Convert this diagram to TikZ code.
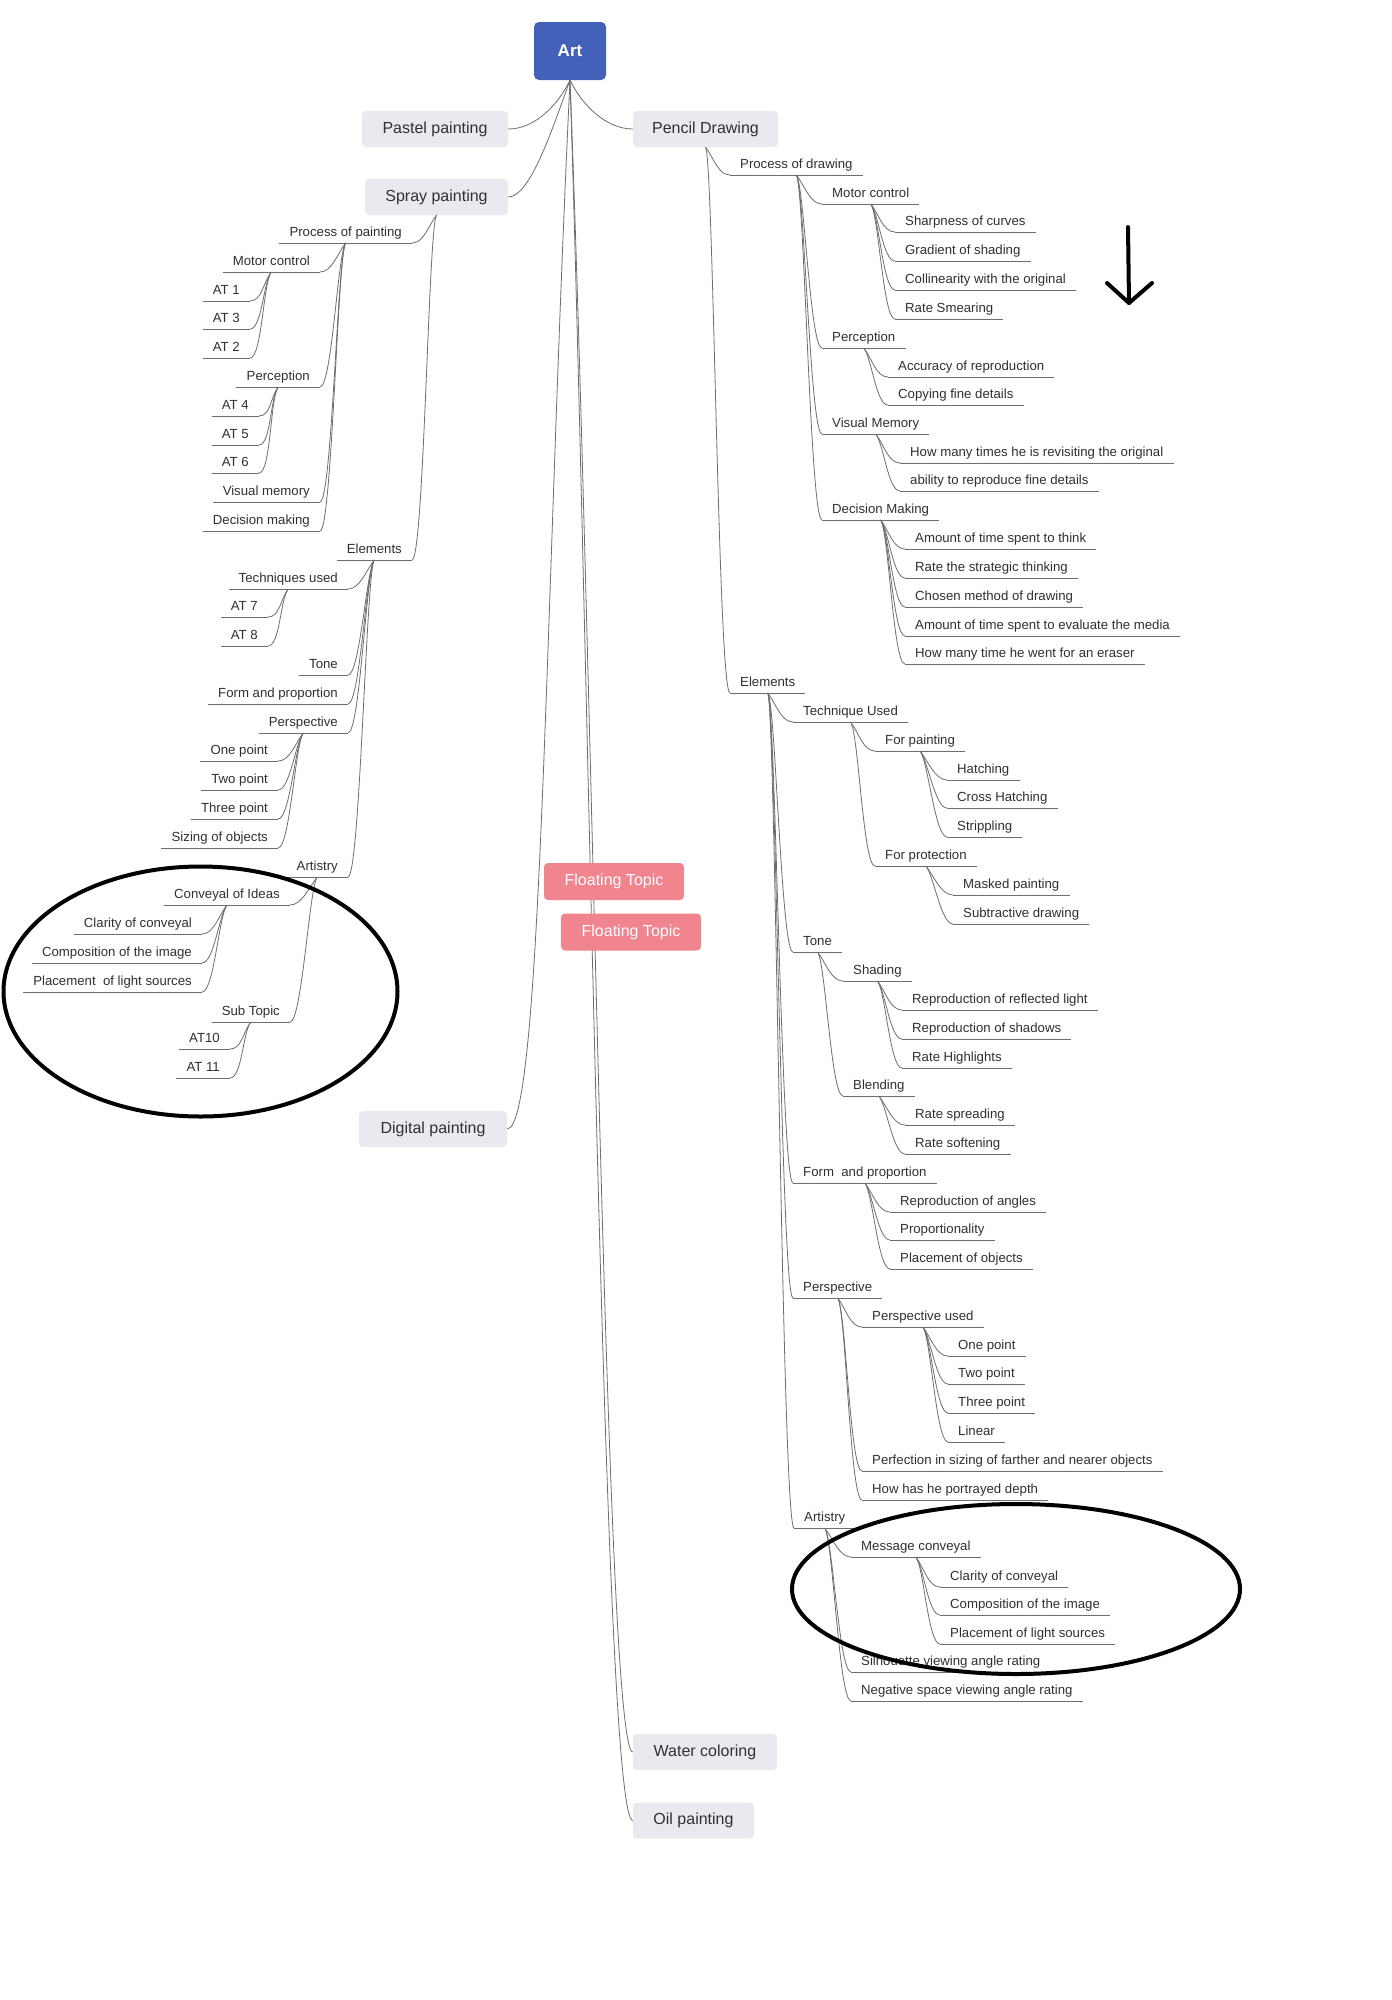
\documentclass[tikz,border=0pt]{standalone}
\usepackage{fontspec}
\setmainfont{Liberation Sans}
\usetikzlibrary{calc}
\definecolor{boxfill}{HTML}{E9EAF0}
\definecolor{rootblue}{HTML}{4361B9}
\definecolor{floatpink}{HTML}{F0848F}
\definecolor{txt}{HTML}{303030}
\definecolor{linec}{HTML}{6E6E6E}
\begin{document}
\begin{tikzpicture}[x=1pt,y=-1pt,
  conn/.style={draw=linec, line width=0.8pt},
  lbl/.style={font=\fontsize{13.2}{15}\selectfont, text=txt, inner xsep=10pt, inner ysep=2pt,
    text height=10pt, text depth=4pt,
    append after command={(\tikzlastnode.south west) edge[conn] (\tikzlastnode.south east)}},
  lft/.style={lbl, anchor=south east},
  rgt/.style={lbl, anchor=south west},
  topic/.style={fill=boxfill, rounded corners=4pt, text=txt, font=\fontsize{16}{19}\selectfont,
    minimum height=36pt, inner sep=0pt},
  floatbox/.style={fill=floatpink, rounded corners=4pt, text=white, font=\fontsize{16}{19}\selectfont,
    minimum height=37pt, minimum width=140pt, inner sep=0pt},
  mark line/.style={line width=4pt, line cap=round, line join=round, draw=black}
]
\useasboundingbox (0,0) rectangle (1392,2000);
\fill[white] (0,0) rectangle (1392,2000);

% root and main topics
\node[fill=rootblue, rounded corners=5pt, text=white, font=\fontsize{17}{20}\selectfont\bfseries,
  minimum width=72pt, minimum height=58pt, inner sep=0pt] (root) at (570,51) {Art};
\node[topic, minimum width=146pt] (pastel) at (435,129) {Pastel painting};
\node[topic, minimum width=143pt] (sp) at (436.5,197) {Spray painting};
\node[topic, minimum width=145pt] (pd) at (705.5,129) {Pencil Drawing};
\node[topic, minimum width=148pt] (digital) at (433,1129) {Digital painting};
\node[topic, minimum width=144pt] (water) at (705,1752) {Water coloring};
\node[topic, minimum width=121pt] (oil) at (693.5,1820.5) {Oil painting};

\draw[conn] (root.south) .. controls (558,105) and (535,129) .. (pastel.east);
\draw[conn] (root.south) .. controls (552,130) and (530,197) .. (sp.east);
\draw[conn] (root.south) .. controls (545,600) and (542,1129) .. (digital.east);
\draw[conn] (root.south) .. controls (582,105) and (606,129) .. (pd.west);
\draw[conn] (root.south) .. controls (594,700) and (606,1752) .. (water.west);
\draw[conn] (root.south) .. controls (590,700) and (604,1820) .. (oil.west);

% right tree
\node[rgt] (r1) at (730,175) {Process of drawing};
\node[rgt] (r11) at (822,204) {Motor control};
\node[rgt] (r111) at (895,232) {Sharpness of curves};
\node[rgt] (r112) at (895,261) {Gradient of shading};
\node[rgt] (r113) at (895,290) {Collinearity with the original};
\node[rgt] (r114) at (895,319) {Rate Smearing};
\node[rgt] (r12) at (822,348) {Perception};
\node[rgt] (r121) at (888,377) {Accuracy of reproduction};
\node[rgt] (r122) at (888,405) {Copying fine details};
\node[rgt] (r13) at (822,434) {Visual Memory};
\node[rgt] (r131) at (900,463) {How many times he is revisiting the original};
\node[rgt] (r132) at (900,491) {ability to reproduce fine details};
\node[rgt] (r14) at (822,520) {Decision Making};
\node[rgt] (r141) at (905,549) {Amount of time spent to think};
\node[rgt] (r142) at (905,578) {Rate the strategic thinking};
\node[rgt] (r143) at (905,607) {Chosen method of drawing};
\node[rgt] (r144) at (905,636) {Amount of time spent to evaluate the media};
\node[rgt] (r145) at (905,664) {How many time he went for an eraser};
\node[rgt] (r2) at (730,693) {Elements};
\node[rgt] (r21) at (793,722) {Technique Used};
\node[rgt] (r211) at (875,751) {For painting};
\node[rgt] (r2111) at (947,780) {Hatching};
\node[rgt] (r2112) at (947,808) {Cross Hatching};
\node[rgt] (r2113) at (947,837) {Strippling};
\node[rgt] (r212) at (875,866) {For protection};
\node[rgt] (r2121) at (953,895) {Masked painting};
\node[rgt] (r2122) at (953,924) {Subtractive drawing};
\node[rgt] (r22) at (793,952) {Tone};
\node[rgt] (r221) at (843,981) {Shading};
\node[rgt] (r2211) at (902,1010) {Reproduction of reflected light};
\node[rgt] (r2212) at (902,1039) {Reproduction of shadows};
\node[rgt] (r2213) at (902,1068) {Rate Highlights};
\node[rgt] (r222) at (843,1096) {Blending};
\node[rgt] (r2221) at (905,1125) {Rate spreading};
\node[rgt] (r2222) at (905,1154) {Rate softening};
\node[rgt] (r23) at (793,1183) {Form\ \ and proportion};
\node[rgt] (r231) at (890,1212) {Reproduction of angles};
\node[rgt] (r232) at (890,1240) {Proportionality};
\node[rgt] (r233) at (890,1269) {Placement of objects};
\node[rgt] (r24) at (793,1298) {Perspective};
\node[rgt] (r241) at (862,1327) {Perspective used};
\node[rgt] (r2411) at (948,1356) {One point};
\node[rgt] (r2412) at (948,1384) {Two point};
\node[rgt] (r2413) at (948,1413) {Three point};
\node[rgt] (r2414) at (948,1442) {Linear};
\node[rgt] (r242) at (862,1471) {Perfection in sizing of farther and nearer objects};
\node[rgt] (r243) at (862,1500) {How has he portrayed depth};
\node[rgt] (r25) at (794,1528) {Artistry};
\node[rgt] (r251) at (851,1557) {Message conveyal};
\node[rgt] (r2511) at (940,1587) {Clarity of conveyal};
\node[rgt] (r2512) at (940,1615) {Composition of the image};
\node[rgt] (r2513) at (940,1644) {Placement of light sources};
\node[rgt] (r252) at (851,1672) {Silhouette viewing angle rating};
\node[rgt] (r253) at (851,1701) {Negative space viewing angle rating};

\foreach \p/\c in {pd/r1, pd/r2, r1/r11, r1/r12, r1/r13, r1/r14,
  r11/r111, r11/r112, r11/r113, r11/r114, r12/r121, r12/r122, r13/r131, r13/r132,
  r14/r141, r14/r142, r14/r143, r14/r144, r14/r145,
  r2/r21, r2/r22, r2/r23, r2/r24, r2/r25, r21/r211, r21/r212,
  r211/r2111, r211/r2112, r211/r2113, r212/r2121, r212/r2122,
  r22/r221, r22/r222, r221/r2211, r221/r2212, r221/r2213, r222/r2221, r222/r2222,
  r23/r231, r23/r232, r23/r233, r24/r241, r24/r242, r24/r243,
  r241/r2411, r241/r2412, r241/r2413, r241/r2414,
  r25/r251, r25/r252, r25/r253, r251/r2511, r251/r2512, r251/r2513}
  \draw[conn] (\p.south) .. controls +(8,10) and +(-12,0) .. (\c.south west);

% left tree
\node[lft] (l1) at (412,243) {Process of painting};
\node[lft] (l11) at (320,272) {Motor control};
\node[lft] (l111) at (250,301) {AT 1};
\node[lft] (l112) at (250,329) {AT 3};
\node[lft] (l113) at (250,358) {AT 2};
\node[lft] (l12) at (320,387) {Perception};
\node[lft] (l121) at (259,416) {AT 4};
\node[lft] (l122) at (259,445) {AT 5};
\node[lft] (l123) at (259,473) {AT 6};
\node[lft] (l13) at (320,502) {Visual memory};
\node[lft] (l14) at (320,531) {Decision making};
\node[lft] (l2) at (412,560) {Elements};
\node[lft] (l21) at (348,589) {Techniques used};
\node[lft] (l211) at (268,617) {AT 7};
\node[lft] (l212) at (268,646) {AT 8};
\node[lft] (l22) at (348,675) {Tone};
\node[lft] (l23) at (348,704) {Form and proportion};
\node[lft] (l24) at (348,733) {Perspective};
\node[lft] (l241) at (278,761) {One point};
\node[lft] (l242) at (278,790) {Two point};
\node[lft] (l243) at (278,819) {Three point};
\node[lft] (l244) at (278,848) {Sizing of objects};
\node[lft] (l25) at (348,877) {Artistry};
\node[lft] (l251) at (290,905) {Conveyal of Ideas};
\node[lft] (l2511) at (202,934) {Clarity of conveyal};
\node[lft] (l2512) at (202,963) {Composition of the image};
\node[lft] (l2513) at (202,992) {Placement\ \ of light sources};
\node[lft] (l252) at (290,1022) {Sub Topic};
\node[lft] (l2521) at (230,1049) {AT10};
\node[lft] (l2522) at (230,1078) {AT 11};

\foreach \p/\c in {sp/l1, sp/l2, l1/l11, l1/l12, l1/l13, l1/l14,
  l11/l111, l11/l112, l11/l113, l12/l121, l12/l122, l12/l123,
  l2/l21, l2/l22, l2/l23, l2/l24, l2/l25, l21/l211, l21/l212,
  l24/l241, l24/l242, l24/l243, l24/l244, l25/l251, l25/l252,
  l251/l2511, l251/l2512, l251/l2513, l252/l2521, l252/l2522}
  \draw[conn] (\p.south) .. controls +(-8,10) and +(12,0) .. (\c.south east);

% floating topics
\node[floatbox] (ft1) at (614,881.5) {Floating Topic};
\node[floatbox] (ft2) at (631,932) {Floating Topic};

% hand-drawn marks
\draw[mark line] (200.5,991.5) ellipse [x radius=197pt, y radius=125pt];
\draw[mark line] (1016,1589) ellipse [x radius=224pt, y radius=85pt];
\draw[mark line] (1128,227) -- (1129,303);
\draw[mark line] (1107,283) -- (1129,303) -- (1152,283);
\end{tikzpicture}
\end{document}
